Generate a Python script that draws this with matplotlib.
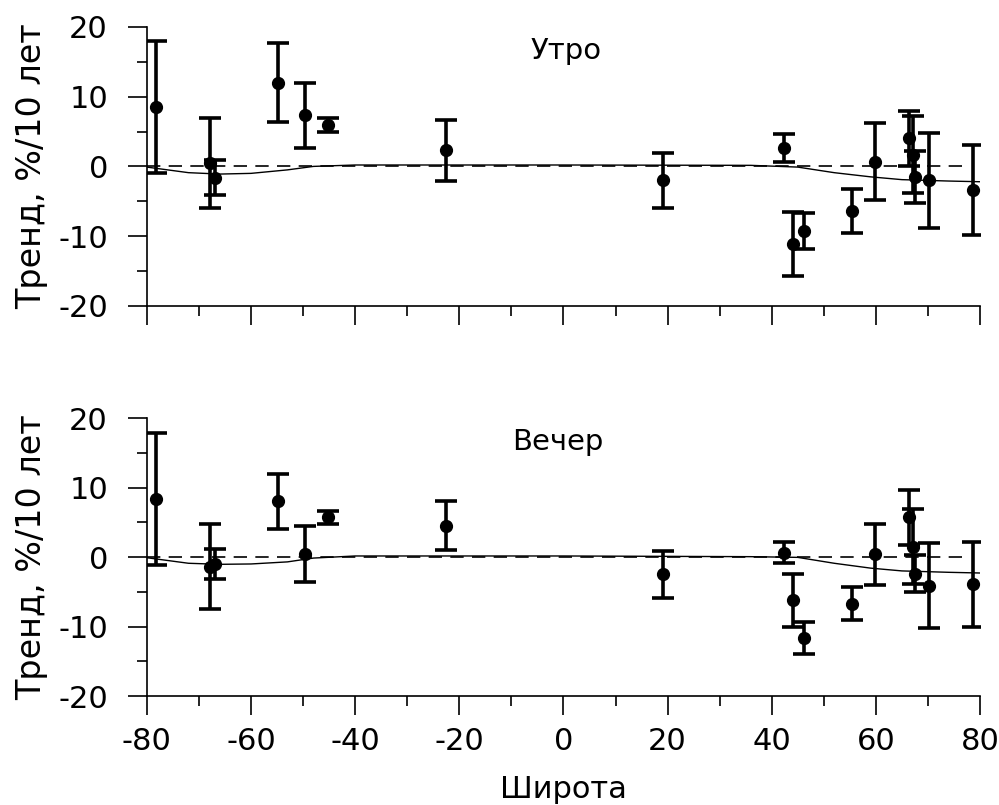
import matplotlib
matplotlib.use('Agg')
import matplotlib.pyplot as plt
from matplotlib.ticker import MultipleLocator

plt.rcParams['font.family'] = ['DejaVu Sans']
plt.rcParams['axes.unicode_minus'] = False

# Latitude of stations (same for both panels)
lat = [-78.3, -67.9, -66.9, -54.8, -49.7, -45.3, -22.6, 19.2, 42.3, 44.1,
       46.2, 55.4, 59.9, 66.4, 67.1, 67.6, 70.2, 78.6]

# Morning trends and errors
morning = [8.5, 0.5, -1.6, 12.0, 7.3, 5.9, 2.3, -2.0, 2.6, -11.1,
           -9.3, -6.4, 0.7, 4.0, 1.7, -1.5, -2.0, -3.4]
morning_err = [9.5, 6.4, 2.5, 5.7, 4.6, 1.0, 4.4, 3.9, 2.0, 4.6,
               2.6, 3.2, 5.5, 4.0, 5.5, 3.7, 6.8, 6.4]

# Evening trends and errors
evening = [8.3, -1.4, -1.0, 8.0, 0.4, 5.7, 4.5, -2.5, 0.6, -6.2,
           -11.7, -6.7, 0.4, 5.7, 1.5, -2.4, -4.1, -3.9]
evening_err = [9.5, 6.1, 2.2, 4.0, 4.0, 0.9, 3.5, 3.4, 1.5, 3.8,
               2.3, 2.4, 4.4, 4.0, 5.4, 2.7, 6.1, 6.1]

# Model curves
curve_lat = [-80, -79, -72, -66, -60, -53, -48, -40, 0, 36, 45, 52, 59, 65, 74, 80]
curve_morning = [-0.1, -0.2, -0.9, -1.1, -1.0, -0.5, 0.0, 0.2, 0.2, 0.15,
                 -0.1, -0.9, -1.5, -1.9, -2.1, -2.2]
curve_evening = [-0.1, -0.2, -0.9, -1.05, -1.0, -0.7, -0.15, 0.15, 0.15, 0.05,
                 -0.05, -0.9, -1.6, -2.0, -2.2, -2.3]

zero_lat = [-80, 77]
zero_val = [0, 0]

fig = plt.figure(figsize=(9.99, 8.05), dpi=100)
ax_top = fig.add_axes([0.147, 0.620, 0.834, 0.3466])
ax_bot = fig.add_axes([0.147, 0.1354, 0.834, 0.3453])


def draw_panel(ax, vals, errs, curve, label, label_x, label_y):
    ax.plot(zero_lat, zero_val, color='black', lw=1.2, dashes=(8, 5))
    ax.plot(curve_lat, curve, color='black', lw=1.0)
    ax.errorbar(lat, vals, yerr=errs, fmt='o', color='black', ms=8.5,
                elinewidth=2.6, capsize=8, capthick=2.6)
    ax.text(label_x, label_y, label, fontsize=21, ha='center', va='center')
    ax.set_xlim(-80, 80)
    ax.set_ylim(-20, 20)
    ax.xaxis.set_major_locator(MultipleLocator(20))
    ax.xaxis.set_minor_locator(MultipleLocator(10))
    ax.yaxis.set_major_locator(MultipleLocator(10))
    ax.yaxis.set_minor_locator(MultipleLocator(5))
    for s in ['top', 'right']:
        ax.spines[s].set_visible(False)
    for s in ['left', 'bottom']:
        ax.spines[s].set_linewidth(1.2)
    ax.tick_params(which='major', length=14, width=1.2, labelsize=22)
    ax.tick_params(which='minor', length=7, width=1.2)
    ax.tick_params(axis='y', pad=14)
    ax.tick_params(axis='x', pad=8)
    ax.set_ylabel('Тренд, %/10 лет', fontsize=24, labelpad=7)


draw_panel(ax_top, morning, morning_err, curve_morning, 'Утро', 0.5, 16.6)
draw_panel(ax_bot, evening, evening_err, curve_evening, 'Вечер', -1, 16.5)

ax_top.tick_params(axis='x', labelbottom=False)
ax_bot.set_xlabel('Широта', fontsize=22, labelpad=14)

fig.savefig('out.png', dpi=100)
